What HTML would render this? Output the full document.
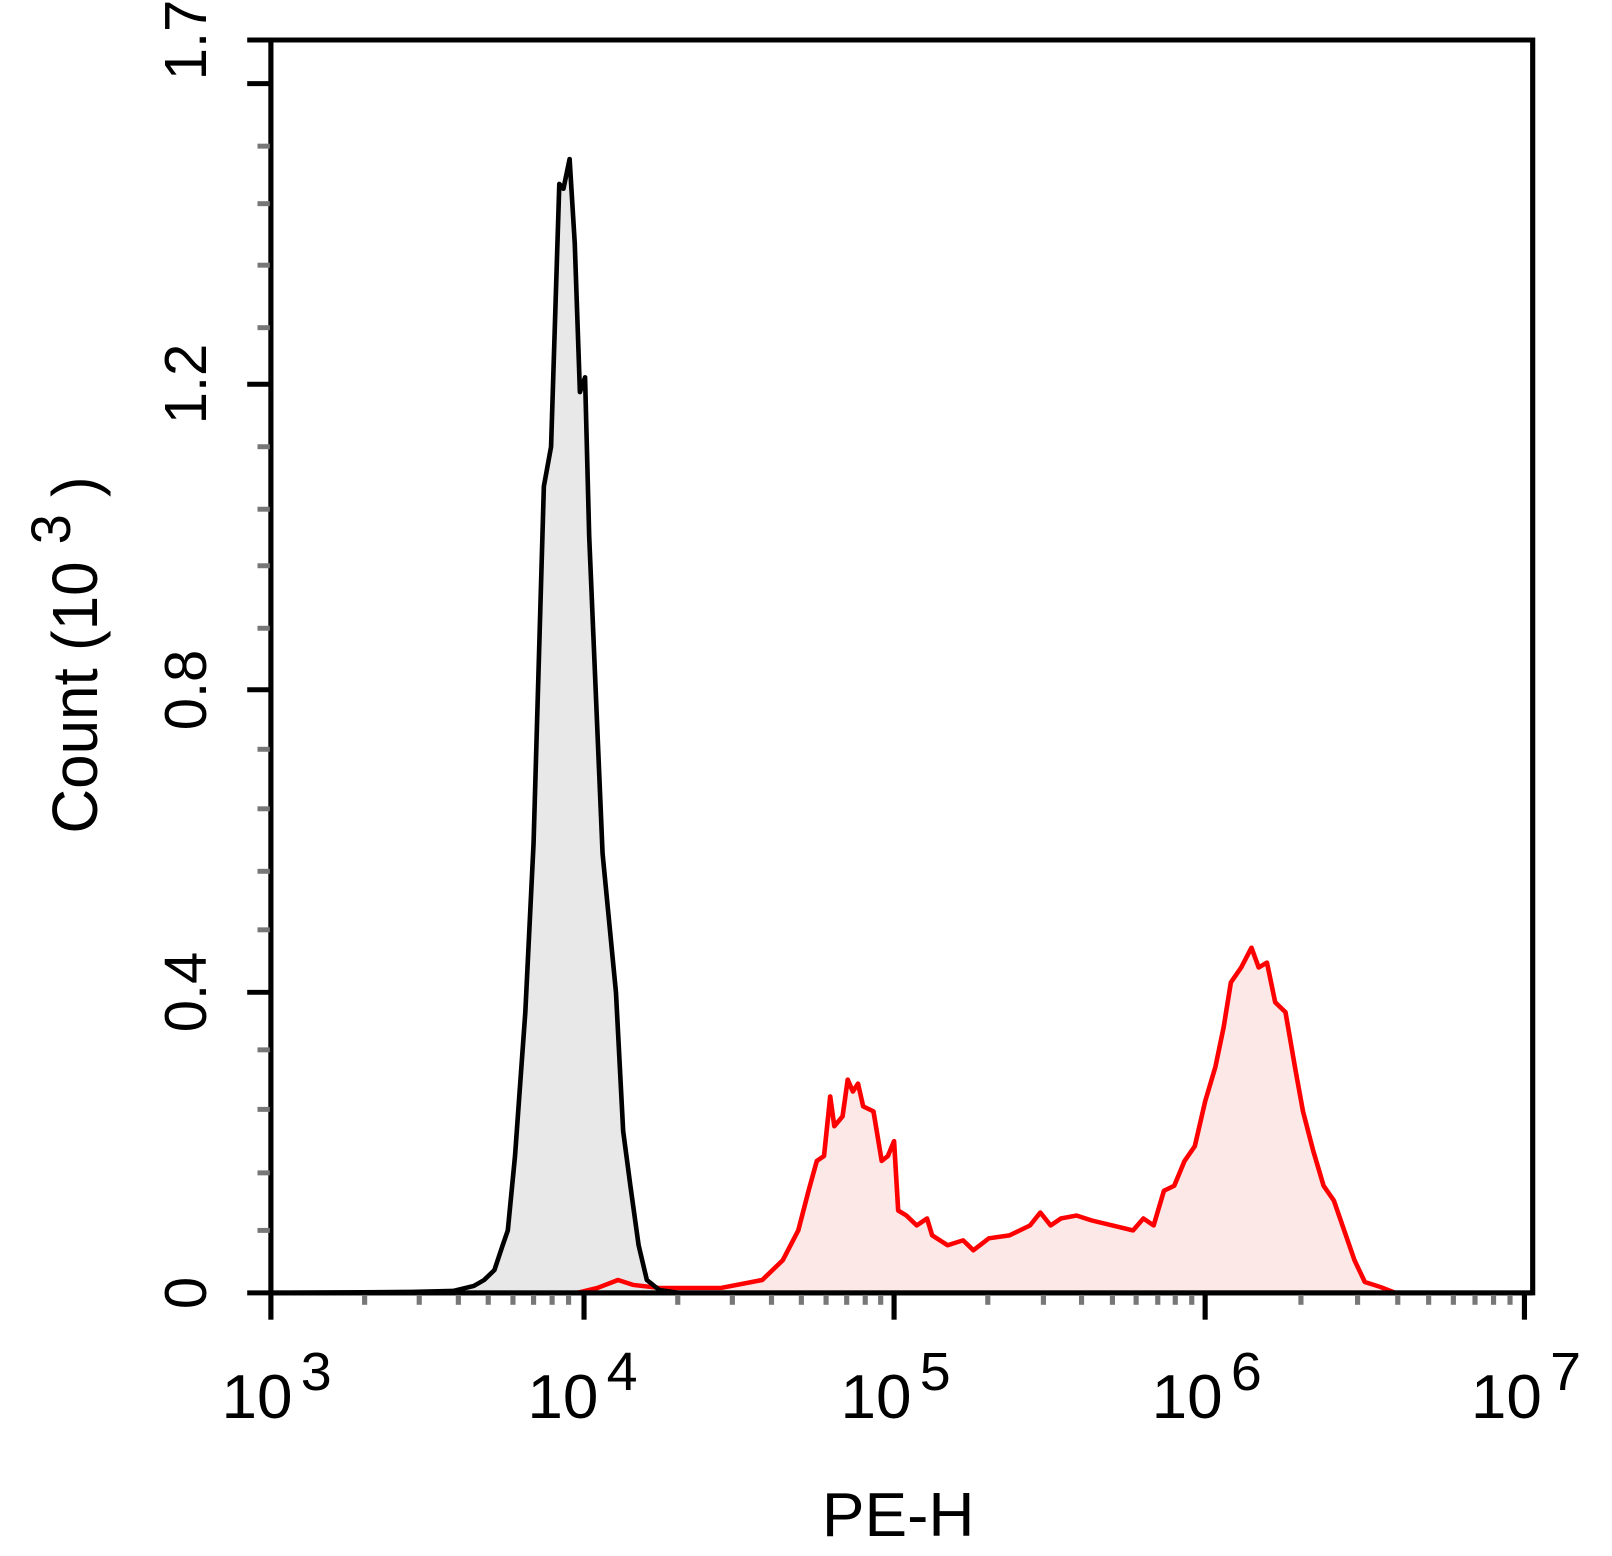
<!DOCTYPE html>
<html><head><style>html,body{margin:0;padding:0;background:#fff}svg{display:block}</style></head><body>
<svg width="1612" height="1556" viewBox="0 0 1565 1556" preserveAspectRatio="none" font-family="Liberation Sans, Arial, sans-serif">
<rect width="1565" height="1556" fill="#fff"/>
<g transform="translate(0,40) scale(1,0.992) translate(0,-40)">
<polygon fill="#fde8e8" stroke="none" points="560,1303 580,1298 600,1290 615,1295 640,1298 700,1298 740,1290 760,1270 775,1240 785,1200 793,1170 800,1165 806,1105 810,1135 818,1125 823,1088 828,1100 833,1092 838,1115 848,1120 856,1170 862,1165 868,1150 872,1220 880,1225 890,1235 900,1228 905,1245 920,1255 935,1250 945,1260 960,1248 980,1245 1000,1235 1010,1222 1020,1235 1030,1228 1045,1225 1060,1230 1080,1235 1100,1240 1110,1228 1120,1235 1130,1200 1140,1195 1150,1170 1160,1155 1170,1110 1180,1075 1188,1035 1195,990 1205,975 1215,955 1222,975 1230,970 1238,1010 1248,1020 1258,1080 1265,1120 1275,1160 1285,1195 1295,1210 1305,1240 1315,1270 1325,1292 1340,1297 1355,1303"/>
<polygon fill="#e8e8e8" stroke="none" points="263,1303 400,1302 440,1301 460,1296 470,1290 480,1280 488,1255 493,1240 500,1165 510,1020 518,850 528,490 535,450 543,185 547,190 553,160 558,245 563,395 568,380 572,540 585,860 598,1000 605,1140 612,1195 620,1255 628,1290 640,1300 660,1303"/>
<polyline fill="none" stroke="#ff0000" stroke-width="4.5" stroke-linejoin="round" points="560,1303 580,1298 600,1290 615,1295 640,1298 700,1298 740,1290 760,1270 775,1240 785,1200 793,1170 800,1165 806,1105 810,1135 818,1125 823,1088 828,1100 833,1092 838,1115 848,1120 856,1170 862,1165 868,1150 872,1220 880,1225 890,1235 900,1228 905,1245 920,1255 935,1250 945,1260 960,1248 980,1245 1000,1235 1010,1222 1020,1235 1030,1228 1045,1225 1060,1230 1080,1235 1100,1240 1110,1228 1120,1235 1130,1200 1140,1195 1150,1170 1160,1155 1170,1110 1180,1075 1188,1035 1195,990 1205,975 1215,955 1222,975 1230,970 1238,1010 1248,1020 1258,1080 1265,1120 1275,1160 1285,1195 1295,1210 1305,1240 1315,1270 1325,1292 1340,1297 1355,1303"/>
<polyline fill="none" stroke="#000" stroke-width="4.5" stroke-linejoin="round" points="263,1303 400,1302 440,1301 460,1296 470,1290 480,1280 488,1255 493,1240 500,1165 510,1020 518,850 528,490 535,450 543,185 547,190 553,160 558,245 563,395 568,380 572,540 585,860 598,1000 605,1140 612,1195 620,1255 628,1290 640,1300 660,1303"/>
<rect x="263" y="40" width="1225" height="1263" fill="none" stroke="#000" stroke-width="5"/>
<line x1="240" y1="1303" x2="1488" y2="1303" stroke="#000" stroke-width="5"/>
<g stroke="#777" stroke-width="5">
<line x1="250" y1="1240" x2="262" y2="1240"/><line x1="250" y1="1182" x2="262" y2="1182"/><line x1="250" y1="1118" x2="262" y2="1118"/><line x1="250" y1="1058" x2="262" y2="1058"/>
<line x1="250" y1="937" x2="262" y2="937"/><line x1="250" y1="878" x2="262" y2="878"/><line x1="250" y1="815" x2="262" y2="815"/><line x1="250" y1="755" x2="262" y2="755"/>
<line x1="250" y1="633" x2="262" y2="633"/><line x1="250" y1="570" x2="262" y2="570"/><line x1="250" y1="513" x2="262" y2="513"/><line x1="250" y1="450" x2="262" y2="450"/>
<line x1="250" y1="330" x2="262" y2="330"/><line x1="250" y1="267" x2="262" y2="267"/><line x1="250" y1="205" x2="262" y2="205"/><line x1="250" y1="147" x2="262" y2="147"/>
</g>
<g stroke="#000" stroke-width="5">
<line x1="240" y1="1000" x2="263" y2="1000"/><line x1="240" y1="695" x2="263" y2="695"/><line x1="240" y1="387" x2="263" y2="387"/><line x1="240" y1="84" x2="263" y2="84"/><line x1="240" y1="40" x2="263" y2="40"/>
<line x1="263" y1="1303" x2="263" y2="1330"/><line x1="567" y1="1303" x2="567" y2="1330"/><line x1="868" y1="1303" x2="868" y2="1330"/><line x1="1170" y1="1303" x2="1170" y2="1330"/><line x1="1480" y1="1303" x2="1480" y2="1330"/>
</g>
<g stroke="#777" stroke-width="5">
<line x1="354" y1="1305" x2="354" y2="1315"/><line x1="407" y1="1305" x2="407" y2="1315"/><line x1="445" y1="1305" x2="445" y2="1315"/><line x1="474" y1="1305" x2="474" y2="1315"/><line x1="498" y1="1305" x2="498" y2="1315"/><line x1="518" y1="1305" x2="518" y2="1315"/><line x1="536" y1="1305" x2="536" y2="1315"/><line x1="552" y1="1305" x2="552" y2="1315"/>
<line x1="658" y1="1305" x2="658" y2="1315"/><line x1="711" y1="1305" x2="711" y2="1315"/><line x1="749" y1="1305" x2="749" y2="1315"/><line x1="778" y1="1305" x2="778" y2="1315"/><line x1="802" y1="1305" x2="802" y2="1315"/><line x1="822" y1="1305" x2="822" y2="1315"/><line x1="840" y1="1305" x2="840" y2="1315"/><line x1="855" y1="1305" x2="855" y2="1315"/>
<line x1="959" y1="1305" x2="959" y2="1315"/><line x1="1013" y1="1305" x2="1013" y2="1315"/><line x1="1050" y1="1305" x2="1050" y2="1315"/><line x1="1080" y1="1305" x2="1080" y2="1315"/><line x1="1103" y1="1305" x2="1103" y2="1315"/><line x1="1124" y1="1305" x2="1124" y2="1315"/><line x1="1141" y1="1305" x2="1141" y2="1315"/><line x1="1157" y1="1305" x2="1157" y2="1315"/>
<line x1="1263" y1="1305" x2="1263" y2="1315"/><line x1="1318" y1="1305" x2="1318" y2="1315"/><line x1="1357" y1="1305" x2="1357" y2="1315"/><line x1="1387" y1="1305" x2="1387" y2="1315"/><line x1="1411" y1="1305" x2="1411" y2="1315"/><line x1="1432" y1="1305" x2="1432" y2="1315"/><line x1="1450" y1="1305" x2="1450" y2="1315"/><line x1="1466" y1="1305" x2="1466" y2="1315"/>
</g>
</g>
<g font-size="58" fill="#000" text-anchor="middle">
<text transform="translate(200,1293) rotate(-90)">0</text>
<text transform="translate(200,992) rotate(-90)">0.4</text>
<text transform="translate(200,690) rotate(-90)">0.8</text>
<text transform="translate(200,384) rotate(-90)">1.2</text>
<text transform="translate(200,40) rotate(-90)">1.7</text>
<text transform="translate(94,655) rotate(-90)" font-size="62">Count  (10 <tspan dy="-26" font-size="54">3</tspan><tspan dy="26"> )</tspan></text>
</g>
<g font-size="62" fill="#000">
<text x="215" y="1418">10<tspan dx="8" dy="-28" font-size="54">3</tspan></text>
<text x="512" y="1418">10<tspan dx="8" dy="-28" font-size="54">4</tspan></text>
<text x="816" y="1418">10<tspan dx="8" dy="-28" font-size="54">5</tspan></text>
<text x="1118" y="1418">10<tspan dx="8" dy="-28" font-size="54">6</tspan></text>
<text x="1428" y="1418">10<tspan dx="8" dy="-28" font-size="54">7</tspan></text>
<text x="872" y="1536" text-anchor="middle" font-size="62">PE-H</text>
</g>
</svg>
</body></html>
